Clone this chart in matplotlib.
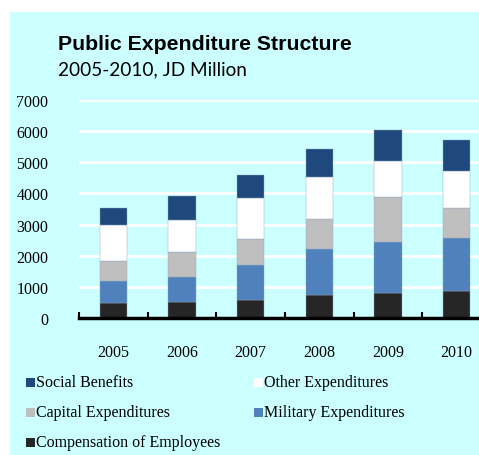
import matplotlib
matplotlib.use("Agg")
import matplotlib.pyplot as plt
from matplotlib.patches import Rectangle
import numpy as np

years = ["2005", "2006", "2007", "2008", "2009", "2010"]
compensation = [490, 515, 590, 750, 795, 880]
military = [700, 800, 1125, 1475, 1650, 1690]
capital = [630, 795, 835, 965, 1455, 975]
other = [1160, 1050, 1300, 1330, 1155, 1190]
social = [550, 750, 740, 910, 975, 975]

series = [
    ("Compensation of Employees", compensation, "#262626"),
    ("Military Expenditures", military, "#4F81BD"),
    ("Capital Expenditures", capital, "#BFBFBF"),
    ("Other Expenditures", other, "#FFFFFF"),
    ("Social Benefits", social, "#1F497D"),
]

W, H = 479, 456
fig = plt.figure(figsize=(W / 100, H / 100), dpi=100)
fig.patch.set_facecolor("white")
bg = "#CCFFFF"
fig.patches.append(Rectangle((10 / W, 0), 1 - 10 / W, 1 - 13 / H,
                             transform=fig.transFigure, facecolor=bg,
                             edgecolor="none", zorder=-5))

# plot area: x from 79 px to 491 px (runs past the right edge), y 0 at 319, 7000 at 101
ax = fig.add_axes([79 / W, 1 - 319 / H, (491 - 79) / W, (319 - 101) / H])
ax.set_zorder(2)
ax.patch.set_visible(False)

x = np.arange(len(years))
bottom = np.zeros(len(years))
for name, vals, col in series:
    ax.bar(x, vals, width=0.4, bottom=bottom, color=col,
           edgecolor="#8FA8C0", linewidth=0.3, zorder=3)
    bottom += np.array(vals)

ax.set_xlim(-0.5, len(years) - 0.5)
ax.set_ylim(0, 7000)
ax.set_yticks(np.arange(0, 7001, 1000))
ax.yaxis.grid(True, color="white", linewidth=2, zorder=1)
ax.set_axisbelow(True)
for s in ["top", "right", "left"]:
    ax.spines[s].set_visible(False)
ax.spines["bottom"].set_linewidth(2.5)
ax.spines["bottom"].set_color("black")
ax.spines["bottom"].set_zorder(4)

ax.set_xticks(np.arange(-0.5, len(years), 1.0))
ax.set_xticklabels([])
ax.tick_params(axis="x", direction="in", length=4, width=1.5, color="black")
ax.set_xticks(x, minor=True)
ax.set_xticklabels(years, minor=True, fontfamily="Liberation Serif", fontsize=11.5)
ax.tick_params(axis="x", which="minor", length=0, pad=19)
ax.tick_params(axis="y", length=0, pad=22)
for lab in ax.get_yticklabels():
    lab.set_fontfamily("Liberation Serif")
    lab.set_fontsize(11.5)

fig.text(58 / W, 1 - 45 / H, "Public Expenditure Structure", fontfamily="Liberation Sans",
         fontweight="bold", fontsize=15.3, va="center", ha="left")
fig.text(58 / W, 1 - 70 / H, "2005-2010, JD Million", fontfamily="Lato",
         fontsize=13.7, va="center", ha="left")

# legend entries laid out in two columns, row by row
legend_order = ["Social Benefits", "Other Expenditures", "Capital Expenditures",
                "Military Expenditures", "Compensation of Employees"]
colors = {n: c for n, _, c in series}
col_x = [26, 254]
row_y = [383, 413, 443]
for i, name in enumerate(legend_order):
    cx = col_x[i % 2]
    cy = row_y[i // 2]
    fig.patches.append(Rectangle((cx / W, 1 - (cy + 4.5) / H), 9 / W, 9 / H,
                                 transform=fig.transFigure, facecolor=colors[name],
                                 edgecolor="none", zorder=2))
    fig.text((cx + 10) / W, 1 - cy / H, name, fontfamily="Liberation Serif",
             fontsize=11.5, va="center", ha="left")

fig.savefig("out.png", dpi=100, facecolor=fig.get_facecolor())
